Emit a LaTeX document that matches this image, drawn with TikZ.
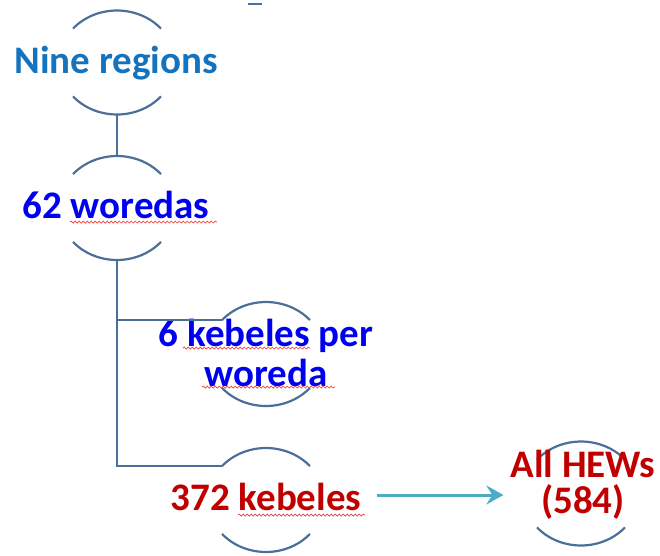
\documentclass[tikz,border=0pt]{standalone}
\usepackage{fontspec}
\setmainfont{Carlito}
\usetikzlibrary{arrows.meta,decorations.pathmorphing,shapes.geometric}
\definecolor{linkblue}{HTML}{4A6F98}
\definecolor{regionblue}{HTML}{1473BE}
\definecolor{woredablue}{HTML}{0000F0}
\definecolor{kebelered}{HTML}{C00000}
\definecolor{arrowteal}{HTML}{4BACC6}
\definecolor{spellred}{HTML}{F04040}
\tikzset{
  x=1pt, y=-1pt,
  ring/.style={ellipse, minimum width=116pt, minimum height=104pt, inner sep=0pt},
  label/.style={font=\fontsize{39}{40}\selectfont\bfseries, inner sep=0pt, align=center},
  link/.style={draw=linkblue, line width=2.2pt},
  hewarrow/.style={draw=arrowteal, line width=3pt, -{Stealth[length=17pt,width=19pt,inset=6pt]}},
  squiggle/.style={draw=spellred, line width=0.7pt, decorate,
    decoration={snake, amplitude=1pt, segment length=4pt}}
}
% upper and lower arcs of a ring (canvas angles, y pointing up)
\newcommand{\toparc}[1]{%
  \draw[link] ([shift={(139.3:58pt and 52pt)}]#1.center)
    arc[start angle=139.3, end angle=40.7, x radius=58pt, y radius=52pt];}
\newcommand{\botarc}[1]{%
  \draw[link] ([shift={(-139.3:58pt and 52pt)}]#1.center)
    arc[start angle=-139.3, end angle=-40.7, x radius=58pt, y radius=52pt];}
\begin{document}
\begin{tikzpicture}
  \useasboundingbox (0,0) rectangle (660,555);

  % rings (invisible outlines, only top and bottom arcs are drawn)
  \node[ring] (r1) at (117,62.5) {};
  \node[ring] (r2) at (117,208) {};
  \node[ring] (r3) at (266,354) {};
  \node[ring] (r4) at (266,500) {};
  \node[ring] (r5) at (581,493.5) {};

  \foreach \r in {r1,r2,r3,r4,r5} {\toparc{\r}\botarc{\r}}

  % labels
  \node[label, text=regionblue, anchor=base] (t1) at (116,73) {Nine regions};
  \node[label, text=woredablue, anchor=base] (t2) at (116,218) {62 woredas};
  \node[label, text=woredablue] (t3) at (266,353) {6 kebeles per\\woreda};
  \node[label, text=kebelered, anchor=base] (t4) at (266,510) {372 kebeles};
  \node[label, text=kebelered] (t5) at (583,485) {All HEWs\\[-4pt](584)};

  % tree connectors
  \coordinate (e3) at ([shift={(139.3:58pt and 52pt)}]r3.center);
  \coordinate (e4) at ([shift={(139.3:58pt and 52pt)}]r4.center);
  \draw[link] (r1.south) -- (r2.north);
  \draw[link] (r2.south) |- (e4);
  \draw[link] (r2.south |- e3) -- (e3);

  % arrow to the health extension workers
  \coordinate (a0) at ([xshift=15pt,yshift=15pt]t4.base east);
  \draw[hewarrow, shorten >=7pt] (a0) -- (a0 -| t5.west);

  % spell-check underlines
  \draw[squiggle] (70,222) -- (217,222);
  \draw[squiggle] (183,348) -- (310,348);
  \draw[squiggle] (202,387) -- (335,387);
  \draw[squiggle] (238,515) -- (365,515);

  % small stray mark
  \draw[linkblue, line width=1.2pt] (248,4) -- (262,4);
\end{tikzpicture}
\end{document}
